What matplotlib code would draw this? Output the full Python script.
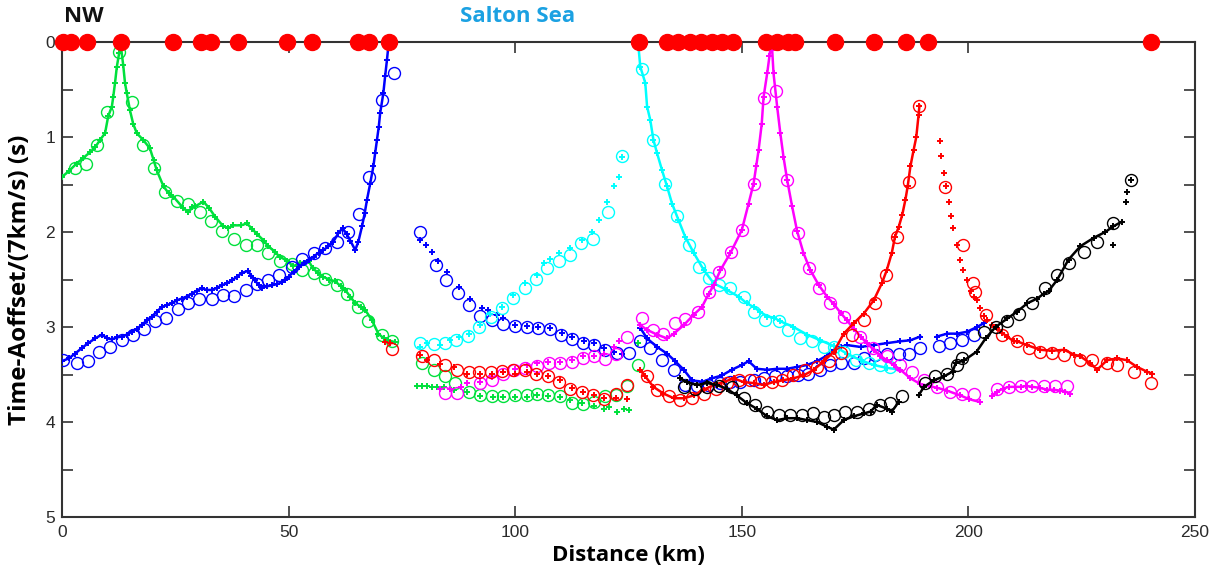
import matplotlib
matplotlib.use("Agg")
import matplotlib.pyplot as plt
import matplotlib.transforms as mtransforms
from matplotlib.ticker import MultipleLocator, FuncFormatter

# ---------------------------------------------------------------------------
# Shot locations along the profile (km)
shot_km = [0.3, 2.0, 5.5, 13.0, 24.5, 30.7, 32.9, 38.9, 49.7, 55.2, 65.3, 67.8,
           72.2, 127.4, 133.6, 136.0, 138.6, 141.1, 143.5, 145.7, 148.1, 155.4,
           157.8, 160.3, 161.8, 170.6, 179.2, 186.3, 191.0, 240.2]

# Observed first-arrival picks (distance km, reduced time s)
green_picks_a = [(0.0, 1.42), (1.5, 1.36), (3.2, 1.28), (4.7, 1.22), (6.2, 1.16), (7.3, 1.11),
                 (8.4, 1.03), (9.5, 0.96), (10.2, 0.78), (11.0, 0.68), (11.3, 0.58), (11.7, 0.43),
                 (12.1, 0.26), (12.6, 0.12), (13.0, 0.05), (13.5, 0.24), (13.9, 0.43), (14.3, 0.54),
                 (15.0, 0.72), (15.7, 0.86), (16.5, 0.96), (17.9, 1.03), (19.4, 1.12), (20.2, 1.24),
                 (20.9, 1.35), (22.4, 1.52), (23.5, 1.59), (24.6, 1.63), (26.8, 1.75), (27.9, 1.79),
                 (28.6, 1.74), (29.4, 1.73), (31.2, 1.68), (32.5, 1.75), (33.8, 1.84), (35.6, 1.94),
                 (36.7, 1.96), (37.8, 1.93), (39.5, 1.93), (40.8, 1.91), (42.0, 1.97), (43.0, 2.02),
                 (44.5, 2.09), (45.5, 2.15), (47.0, 2.21), (48.0, 2.26), (49.6, 2.30), (51.0, 2.36),
                 (52.5, 2.33), (54.4, 2.30), (55.3, 2.38), (56.5, 2.43), (57.5, 2.47), (59.0, 2.50),
                 (60.3, 2.52), (61.5, 2.57), (62.5, 2.61), (63.6, 2.68), (64.7, 2.75), (66.0, 2.79),
                 (66.9, 2.82), (68.4, 2.93), (69.8, 3.07), (71.0, 3.12), (72.0, 3.14), (73.5, 3.16)]
green_picks_b = [(78.3, 3.62), (79.4, 3.62), (80.5, 3.62), (81.6, 3.63), (82.7, 3.63), (84.2, 3.63),
                 (86.4, 3.66), (89.4, 3.68), (92.3, 3.73), (95.1, 3.74), (97.4, 3.74), (100.0, 3.74),
                 (102.6, 3.74), (104.8, 3.72), (107.3, 3.73), (109.9, 3.74), (112.1, 3.77), (114.7, 3.80),
                 (117.3, 3.83), (119.5, 3.86), (120.6, 3.84), (122.4, 3.89), (123.9, 3.86), (125.0, 3.87),
                 (127.2, 3.17)]

blue_picks_a = [(0.0, 3.36), (1.5, 3.33), (2.9, 3.28), (4.4, 3.22), (5.8, 3.17), (7.3, 3.12),
                (8.8, 3.08), (10.0, 3.12), (11.0, 3.13), (12.1, 3.11), (13.2, 3.10), (14.3, 3.08),
                (15.4, 3.05), (16.5, 3.02), (17.6, 2.98), (18.7, 2.93), (19.8, 2.89), (20.9, 2.84),
                (22.0, 2.79), (23.1, 2.77), (24.2, 2.75), (25.3, 2.72), (26.4, 2.70), (27.5, 2.68),
                (28.6, 2.65), (29.7, 2.62), (30.8, 2.59), (31.9, 2.61), (33.0, 2.61), (34.1, 2.59),
                (35.3, 2.56), (36.4, 2.54), (37.5, 2.51), (38.6, 2.47), (39.7, 2.43), (41.0, 2.41),
                (41.8, 2.46), (42.6, 2.51), (43.4, 2.56), (44.1, 2.59), (45.2, 2.57), (46.3, 2.56),
                (47.4, 2.55), (48.5, 2.53), (49.3, 2.50), (50.0, 2.47), (51.1, 2.42), (52.2, 2.37),
                (53.3, 2.33), (54.4, 2.29), (55.5, 2.26), (56.6, 2.22), (57.7, 2.19), (58.8, 2.15),
                (59.9, 2.10), (61.0, 2.01), (61.9, 1.96), (62.8, 2.02), (63.6, 2.09), (64.7, 2.19),
                (65.4, 2.10), (66.2, 1.94), (66.8, 1.80), (67.3, 1.66), (68.0, 1.49), (68.7, 1.31),
                (69.1, 1.17), (69.5, 1.03), (69.9, 0.89), (70.2, 0.75), (70.9, 0.54), (71.3, 0.36),
                (71.7, 0.19), (72.0, 0.05)]
blue_picks_b = [(79.0, 2.08), (80.4, 2.14), (81.6, 2.21), (82.9, 2.31), (84.9, 2.42), (87.5, 2.58),
                (90.1, 2.70), (92.6, 2.80), (93.9, 2.82), (96.0, 2.87), (97.4, 2.91), (100.0, 2.98),
                (102.6, 2.99), (105.1, 3.00), (107.7, 3.01), (110.3, 3.06), (112.5, 3.10), (115.1, 3.15),
                (117.3, 3.17), (119.5, 3.22), (121.7, 3.26), (123.5, 3.28)]
blue_picks_c = [(127.6, 3.01), (129.1, 3.12), (131.3, 3.21), (133.5, 3.28), (135.3, 3.36), (137.2, 3.45),
                (139.0, 3.56), (141.2, 3.58), (143.4, 3.54), (145.6, 3.51), (147.8, 3.45), (150.0, 3.40),
                (151.5, 3.36), (153.3, 3.44), (155.6, 3.45), (157.8, 3.44), (160.0, 3.44), (162.2, 3.42),
                (164.4, 3.40), (166.6, 3.36), (168.8, 3.30), (170.3, 3.24), (171.8, 3.21), (173.2, 3.19),
                (176.2, 3.21), (179.1, 3.19), (182.0, 3.17), (185.0, 3.15), (187.2, 3.14), (189.4, 3.10)]
blue_picks_d = [(193.1, 3.10), (195.3, 3.07), (197.5, 3.07), (199.7, 3.05), (201.9, 3.00), (203.4, 2.96)]

cyan_picks_a = [(79.0, 3.21), (80.5, 3.17), (83.4, 3.19), (85.7, 3.14), (87.5, 3.11), (89.7, 3.07),
                (92.3, 2.98), (94.5, 2.86), (97.1, 2.79), (99.6, 2.66), (102.2, 2.54), (104.8, 2.45),
                (106.3, 2.33), (107.7, 2.28), (109.6, 2.22), (112.1, 2.17), (114.7, 2.08), (116.9, 2.00),
                (118.4, 1.87), (120.2, 1.68), (121.7, 1.52), (122.8, 1.42), (123.5, 1.21)]
cyan_picks_b = [(127.2, 0.05), (127.6, 0.26), (128.7, 0.43), (129.1, 0.68), (129.8, 0.82), (130.5, 1.03),
                (131.3, 1.17), (132.4, 1.35), (133.5, 1.52), (134.6, 1.70), (136.0, 1.87), (137.5, 2.05),
                (139.4, 2.22), (141.6, 2.40), (143.8, 2.54), (146.7, 2.61), (149.3, 2.68), (151.1, 2.75),
                (152.6, 2.79), (154.1, 2.84), (155.6, 2.89), (157.0, 2.90), (158.5, 2.94), (161.4, 3.00),
                (164.4, 3.08), (167.3, 3.14), (170.3, 3.20), (173.2, 3.28), (176.2, 3.35), (179.1, 3.40),
                (182.0, 3.43), (185.0, 3.45)]

red_picks_a = [(71.3, 3.16), (72.3, 3.17)]
red_picks_b = [(79.0, 3.29), (80.5, 3.35), (83.4, 3.39), (86.4, 3.42), (89.3, 3.49), (92.3, 3.49),
               (94.9, 3.49), (97.4, 3.47), (100.0, 3.49), (102.6, 3.47), (104.8, 3.49), (107.3, 3.52),
               (109.9, 3.56), (112.5, 3.64), (114.9, 3.68), (117.3, 3.72), (119.7, 3.75), (122.3, 3.75),
               (124.7, 3.76)]
red_picks_c = [(127.6, 3.45), (128.7, 3.52), (130.5, 3.63), (132.7, 3.70), (135.0, 3.75), (137.2, 3.75),
               (139.4, 3.72), (141.6, 3.66), (143.8, 3.61), (146.0, 3.58), (148.2, 3.54), (150.4, 3.58),
               (152.6, 3.59), (154.8, 3.61), (157.0, 3.58), (159.2, 3.56), (161.4, 3.54), (163.6, 3.51),
               (165.9, 3.45), (168.1, 3.36), (170.3, 3.26), (172.5, 3.07), (174.7, 2.96), (176.9, 2.86),
               (179.1, 2.72), (180.9, 2.54), (182.0, 2.40), (183.1, 2.22), (183.8, 2.05), (184.6, 1.95),
               (185.4, 1.82), (186.1, 1.66), (186.6, 1.52), (187.2, 1.31), (187.9, 1.14), (188.5, 1.00),
               (189.0, 0.77), (189.2, 0.67)]
red_picks_d = [(193.7, 1.04), (194.0, 1.20), (194.6, 1.38), (195.1, 1.52), (195.7, 1.68), (196.1, 1.83),
               (196.7, 1.96), (197.5, 2.14), (198.2, 2.29), (198.8, 2.40), (199.6, 2.51), (200.5, 2.62),
               (201.2, 2.68), (201.9, 2.72), (202.6, 2.80), (203.4, 2.88), (204.1, 2.93)]
red_picks_e = [(205.2, 2.98), (206.3, 3.01), (207.4, 3.06), (208.5, 3.10), (210.0, 3.15), (210.7, 3.15),
               (212.9, 3.19), (215.9, 3.24), (218.5, 3.25), (221.1, 3.24), (223.3, 3.29), (224.7, 3.31),
               (226.9, 3.38), (228.4, 3.45), (230.6, 3.35), (232.8, 3.33), (235.0, 3.35), (237.2, 3.42),
               (239.4, 3.47), (240.5, 3.49)]

magenta_picks_a = [(83.4, 3.65), (85.7, 3.65), (88.1, 3.63), (89.3, 3.59), (92.3, 3.58), (94.9, 3.53),
                   (97.4, 3.47), (100.0, 3.44), (102.6, 3.40), (104.8, 3.38), (107.3, 3.37), (109.9, 3.37),
                   (112.5, 3.35), (114.9, 3.31), (117.3, 3.30), (119.7, 3.28), (121.7, 3.21), (122.8, 3.15)]
magenta_picks_b = [(127.6, 2.98), (129.1, 3.03), (131.3, 3.08), (133.5, 3.12), (135.0, 3.07), (137.2, 2.98),
                   (139.4, 2.87), (141.2, 2.79), (142.7, 2.65), (143.8, 2.56), (145.3, 2.40), (147.5, 2.22),
                   (150.0, 1.98), (151.5, 1.70), (152.6, 1.49), (153.2, 1.30), (153.7, 1.14), (154.4, 0.86),
                   (154.8, 0.58), (155.6, 0.33), (156.1, 0.15), (156.4, 0.03), (156.7, 0.08), (157.0, 0.33),
                   (157.8, 0.68), (158.5, 0.96), (159.2, 1.21), (160.0, 1.45), (161.1, 1.73), (162.2, 1.99),
                   (163.6, 2.22), (165.1, 2.40), (167.0, 2.56), (168.8, 2.68), (170.3, 2.76), (171.8, 2.85),
                   (173.2, 2.93), (174.7, 3.02), (176.2, 3.10), (177.6, 3.17), (179.1, 3.24), (180.5, 3.30),
                   (182.0, 3.35), (183.5, 3.40), (185.0, 3.45), (187.2, 3.54), (189.4, 3.60), (191.2, 3.62),
                   (193.1, 3.64), (195.3, 3.67), (198.2, 3.72), (200.2, 3.76), (202.6, 3.79)]
magenta_picks_c = [(205.2, 3.73), (206.3, 3.68), (207.6, 3.65), (208.9, 3.63), (210.2, 3.63), (211.5, 3.63),
                   (212.8, 3.62), (214.1, 3.63), (215.7, 3.64), (217.4, 3.66), (218.8, 3.66), (220.3, 3.67),
                   (221.4, 3.68), (222.5, 3.70)]

black_picks_a = [(136.4, 3.54), (137.9, 3.58), (140.1, 3.61), (142.3, 3.59), (144.5, 3.61), (146.7, 3.65),
                 (148.9, 3.72), (151.1, 3.80), (153.3, 3.86), (155.6, 3.94), (157.8, 3.98), (160.0, 3.96),
                 (162.2, 3.96), (164.4, 3.98), (166.6, 4.00), (168.8, 4.05), (170.3, 4.08), (172.5, 3.98),
                 (174.7, 3.94), (176.9, 3.91), (178.4, 3.89), (179.8, 3.82), (182.0, 3.86), (183.1, 3.89),
                 (184.6, 3.79)]
black_picks_b = [(189.0, 3.72), (190.2, 3.63), (192.4, 3.56), (194.6, 3.52), (196.5, 3.47), (197.2, 3.38),
                 (199.1, 3.35), (201.8, 3.26), (203.8, 3.12), (206.0, 3.00), (208.6, 2.91), (210.7, 2.84),
                 (213.0, 2.75), (215.2, 2.70), (216.6, 2.65), (217.7, 2.62), (219.5, 2.51), (222.1, 2.29),
                 (224.7, 2.15), (227.7, 2.06), (230.2, 2.00), (232.0, 1.94), (233.9, 1.89)]
black_picks_c = [(232.0, 2.14), (234.7, 1.68), (235.0, 1.58), (235.8, 1.45)]

# Model-predicted travel times (distance km, reduced time s)
green_model_a = [(2.8, 1.33), (5.2, 1.28), (7.7, 1.08), (10.0, 0.74), (12.6, 0.10), (15.4, 0.63),
                 (17.8, 1.08), (20.2, 1.33), (22.8, 1.58), (25.3, 1.67), (27.9, 1.71), (30.4, 1.79),
                 (32.9, 1.88), (35.4, 1.99), (38.0, 2.07), (40.6, 2.14), (43.1, 2.14), (45.5, 2.22),
                 (48.0, 2.30), (50.7, 2.34), (52.9, 2.40), (55.5, 2.43), (58.1, 2.49), (60.6, 2.56),
                 (62.8, 2.65), (65.4, 2.79), (67.6, 2.94), (70.6, 3.08), (72.8, 3.15)]
green_model_b = [(79.4, 3.38), (82.0, 3.45), (84.5, 3.52), (86.8, 3.59), (89.7, 3.68), (92.3, 3.72),
                 (94.9, 3.73), (97.4, 3.73), (100.0, 3.72), (102.6, 3.72), (104.8, 3.71), (107.3, 3.72),
                 (109.9, 3.73), (112.5, 3.80), (114.9, 3.81), (117.3, 3.79), (119.9, 3.73), (122.3, 3.72),
                 (124.7, 3.62), (127.2, 3.40)]

blue_model_a = [(0.3, 3.35), (3.2, 3.38), (5.8, 3.36), (8.2, 3.26), (10.7, 3.21), (13.2, 3.14),
                (15.7, 3.08), (18.2, 3.02), (20.5, 2.94), (23.0, 2.90), (25.5, 2.81), (27.9, 2.75),
                (30.3, 2.70), (33.0, 2.70), (35.5, 2.66), (38.0, 2.67), (40.6, 2.61), (43.1, 2.55),
                (45.5, 2.50), (47.9, 2.45), (50.7, 2.37), (52.9, 2.28), (55.5, 2.22), (58.1, 2.17),
                (60.6, 2.10), (63.1, 2.00), (65.5, 1.81), (67.8, 1.42), (70.6, 0.61), (73.3, 0.33)]
blue_model_b = [(79.0, 2.00), (82.6, 2.35), (84.8, 2.50), (87.3, 2.64), (89.7, 2.77), (92.3, 2.88),
                (94.9, 2.93), (97.4, 2.97), (100.0, 2.99), (102.6, 3.00), (105.0, 3.01), (107.6, 3.02),
                (110.2, 3.08), (112.5, 3.13), (114.9, 3.17), (117.4, 3.19), (119.9, 3.24), (122.4, 3.27),
                (125.0, 3.27)]
blue_model_c = [(127.6, 3.15), (129.8, 3.22), (132.4, 3.35), (135.0, 3.45), (137.5, 3.61), (140.1, 3.62),
                (142.6, 3.61), (145.3, 3.59), (147.5, 3.58), (149.7, 3.58), (152.6, 3.56), (154.8, 3.54),
                (157.4, 3.52), (160.0, 3.52), (162.3, 3.50), (164.7, 3.49), (167.3, 3.45), (169.5, 3.40),
                (171.8, 3.38), (174.7, 3.38), (177.0, 3.33), (179.3, 3.29), (182.0, 3.28), (184.6, 3.28),
                (187.0, 3.28), (189.4, 3.22), (193.5, 3.20), (196.0, 3.17), (198.6, 3.14), (201.2, 3.08)]

cyan_model_a = [(79.0, 3.17), (82.0, 3.18), (84.4, 3.17), (87.0, 3.14), (89.6, 3.09), (92.1, 3.00),
                (94.6, 2.89), (97.1, 2.80), (99.6, 2.69), (102.2, 2.59), (104.6, 2.49), (107.0, 2.38),
                (109.7, 2.31), (112.1, 2.24), (114.6, 2.12), (117.1, 2.07), (120.4, 1.79), (123.5, 1.20)]
cyan_model_b = [(128.0, 0.28), (130.5, 1.03), (133.0, 1.49), (135.7, 1.83), (138.3, 2.14), (140.5, 2.37),
                (142.7, 2.48), (144.9, 2.56), (147.5, 2.59), (150.4, 2.68), (152.6, 2.84), (155.2, 2.93),
                (158.1, 2.94), (160.3, 3.03), (162.9, 3.12), (165.5, 3.15), (168.1, 3.21), (170.3, 3.21),
                (172.5, 3.26), (175.1, 3.35), (178.0, 3.38), (180.6, 3.40), (182.8, 3.42)]

red_model_a = [(72.8, 3.23)]
red_model_b = [(79.4, 3.31), (82.0, 3.35), (84.5, 3.40), (87.1, 3.45), (89.7, 3.47), (92.1, 3.47),
               (94.6, 3.47), (97.1, 3.46), (99.6, 3.45), (102.2, 3.45), (104.6, 3.49), (107.2, 3.52),
               (109.7, 3.58), (112.1, 3.65), (114.7, 3.68), (117.1, 3.72), (119.6, 3.76), (122.3, 3.70),
               (124.7, 3.61)]
red_model_c = [(129.1, 3.52), (131.3, 3.66), (133.9, 3.73), (136.4, 3.77), (139.0, 3.75), (141.6, 3.70),
               (144.2, 3.65), (146.7, 3.59), (149.3, 3.56), (151.9, 3.56), (154.1, 3.58), (156.7, 3.58),
               (158.9, 3.56), (161.4, 3.51), (164.0, 3.45), (166.6, 3.42), (169.2, 3.36), (171.8, 3.27),
               (174.4, 3.08), (176.9, 2.93), (179.3, 2.75), (181.9, 2.45), (184.2, 2.05), (186.9, 1.47),
               (189.2, 0.67)]
red_model_d = [(194.9, 1.53), (198.9, 2.14), (201.0, 2.54), (201.5, 2.63), (203.8, 2.87), (207.4, 3.08),
               (210.7, 3.15), (213.3, 3.22), (215.9, 3.26), (218.5, 3.27), (221.1, 3.29), (224.7, 3.35),
               (227.3, 3.35), (230.6, 3.38), (232.8, 3.40), (236.5, 3.47), (240.3, 3.59)]

magenta_model_a = [(84.5, 3.69), (87.1, 3.69), (92.3, 3.59), (94.9, 3.56), (97.3, 3.49), (99.8, 3.45),
                   (102.2, 3.43), (104.8, 3.41), (107.4, 3.38), (109.9, 3.38), (112.5, 3.37), (114.9, 3.33),
                   (117.4, 3.31), (119.9, 3.34), (122.3, 3.28), (124.7, 3.11)]
magenta_model_b = [(128.0, 2.90), (130.5, 3.03), (132.7, 3.07), (135.3, 2.96), (137.5, 2.92), (140.3, 2.84),
                   (142.7, 2.63), (144.9, 2.42), (147.6, 2.21), (150.0, 1.98), (152.6, 1.49), (154.8, 0.59),
                   (157.5, 0.52), (160.0, 1.45), (162.4, 2.01), (164.8, 2.38), (167.0, 2.59), (169.5, 2.75),
                   (172.5, 2.89), (176.0, 3.10), (179.0, 3.22), (182.0, 3.31), (185.0, 3.40), (187.6, 3.47),
                   (190.2, 3.56), (193.1, 3.63), (196.0, 3.68), (198.6, 3.70), (201.2, 3.70)]
magenta_model_c = [(206.3, 3.65), (208.9, 3.63), (211.5, 3.62), (214.1, 3.62), (216.7, 3.62), (219.2, 3.62),
                   (221.8, 3.62)]

black_model = [(137.2, 3.63), (139.7, 3.65), (142.3, 3.63), (145.0, 3.62), (147.8, 3.63), (150.4, 3.75),
               (153.0, 3.82), (155.6, 3.89), (158.1, 3.93), (160.7, 3.93), (163.3, 3.93), (165.7, 3.91),
               (168.1, 3.95), (170.3, 3.93), (172.8, 3.89), (175.4, 3.89), (178.0, 3.86), (180.6, 3.82),
               (182.8, 3.80), (185.4, 3.73), (190.5, 3.59), (192.7, 3.52), (195.3, 3.49), (197.5, 3.40),
               (198.6, 3.33), (203.5, 3.05), (206.1, 3.00), (208.6, 2.94), (211.2, 2.86), (214.1, 2.75),
               (217.0, 2.59), (219.5, 2.45), (222.1, 2.33), (225.4, 2.21), (228.4, 2.10), (231.9, 1.91),
               (235.8, 1.45)]

x_ticks = [0, 50, 100, 150, 200, 250]
y_tick_labels = ["0", "1", "2", "3", "4", "5"]

GREEN = "#00E03C"
BLUE = "#0000FF"
CYAN = "#00FFFF"
RED = "#FF0000"
MAGENTA = "#FF00FF"
BLACK = "#000000"
AXIS_GREY = "#333333"

# ---------------------------------------------------------------------------
W, H = 1217, 571
fig = plt.figure(figsize=(W / 100, H / 100), dpi=100)
ax = fig.add_axes([62 / W, 1 - 517 / H, (1195 - 62) / W, (517 - 42) / H])


def draw_picks(points, color, joined):
    xs = [p[0] for p in points]
    ys = [p[1] for p in points]
    ax.plot(xs, ys, linestyle="-" if joined else "none", linewidth=1.8, color=color,
            marker="+", markersize=4.6, markeredgewidth=1.4, zorder=3)


def draw_model(points, color):
    xs = [p[0] for p in points]
    ys = [p[1] for p in points]
    ax.plot(xs, ys, linestyle="none", marker="o", markersize=8.6, markerfacecolor="none",
            markeredgecolor=color, markeredgewidth=1.0, zorder=3)


# green
draw_picks(green_picks_a, GREEN, True)
draw_picks(green_picks_b, GREEN, False)
draw_model(green_model_a, GREEN)
draw_model(green_model_b, GREEN)
# blue
draw_picks(blue_picks_a, BLUE, True)
draw_picks(blue_picks_b, BLUE, False)
draw_picks(blue_picks_c, BLUE, True)
draw_picks(blue_picks_d, BLUE, True)
draw_model(blue_model_a, BLUE)
draw_model(blue_model_b, BLUE)
draw_model(blue_model_c, BLUE)
# cyan
draw_picks(cyan_picks_a, CYAN, False)
draw_picks(cyan_picks_b, CYAN, True)
draw_model(cyan_model_a, CYAN)
draw_model(cyan_model_b, CYAN)
# magenta
draw_picks(magenta_picks_a, MAGENTA, False)
draw_picks(magenta_picks_b, MAGENTA, True)
draw_picks(magenta_picks_c, MAGENTA, True)
draw_model(magenta_model_a, MAGENTA)
draw_model(magenta_model_b, MAGENTA)
draw_model(magenta_model_c, MAGENTA)
# red
draw_picks(red_picks_a, RED, False)
draw_picks(red_picks_b, RED, False)
draw_picks(red_picks_c, RED, True)
draw_picks(red_picks_d, RED, False)
draw_picks(red_picks_e, RED, True)
draw_model(red_model_a, RED)
draw_model(red_model_b, RED)
draw_model(red_model_c, RED)
draw_model(red_model_d, RED)
# black
draw_picks(black_picks_a, BLACK, True)
draw_picks(black_picks_b, BLACK, True)
draw_picks(black_picks_c, BLACK, False)
draw_model(black_model, BLACK)

# shots on the surface
ax.plot(shot_km, [0] * len(shot_km), linestyle="none", marker="o", markersize=11.5,
        color=RED, clip_on=False, zorder=6)

# axes
ax.set_xlim(0, 250)
ax.set_ylim(5, 0)
ax.set_xticks(x_ticks)
ax.set_xticklabels([str(v) for v in x_ticks])
ax.yaxis.set_major_locator(MultipleLocator(0.5))
ax.yaxis.set_major_formatter(FuncFormatter(
    lambda v, pos: y_tick_labels[int(round(v))] if abs(v - round(v)) < 1e-6 else ""))
ax.tick_params(axis="both", which="major", direction="in", length=8, width=1.2,
               color=AXIS_GREY, top=True, right=True, labelsize=12.5, labelcolor="#2a2a2a")
ax.tick_params(axis="x", pad=6)
ax.tick_params(axis="y", pad=5)
for lab in ax.get_xticklabels() + ax.get_yticklabels():
    lab.set_fontfamily("Liberation Sans")
for sp in ax.spines.values():
    sp.set_color(AXIS_GREY)
    sp.set_linewidth(1.5)

ax.set_xlabel("Distance (km)", fontsize=16, fontweight="bold", fontfamily="Open Sans")
ax.xaxis.label.set_va("center")
ax.xaxis.set_label_coords(0.5, -0.082)
ax.set_ylabel("Time-Aoffset/(7km/s) (s)", fontsize=17.5, fontweight="bold", fontfamily="Open Sans")
ax.yaxis.label.set_va("center")
ax.yaxis.set_label_coords(-0.037, 0.5)

top = mtransforms.blended_transform_factory(ax.transData, fig.transFigure)
ax.text(0.4, 1 - 16.5 / H, "NW", transform=top, ha="left", va="center", fontsize=16,
        fontweight="bold", fontfamily="Open Sans", color="#111111")
ax.text(87.9, 1 - 16.5 / H, "Salton Sea", transform=top, ha="left", va="center", fontsize=16,
        fontweight="bold", fontfamily="Open Sans", color="#1BA1E2")

fig.savefig("out.png", dpi=100)
